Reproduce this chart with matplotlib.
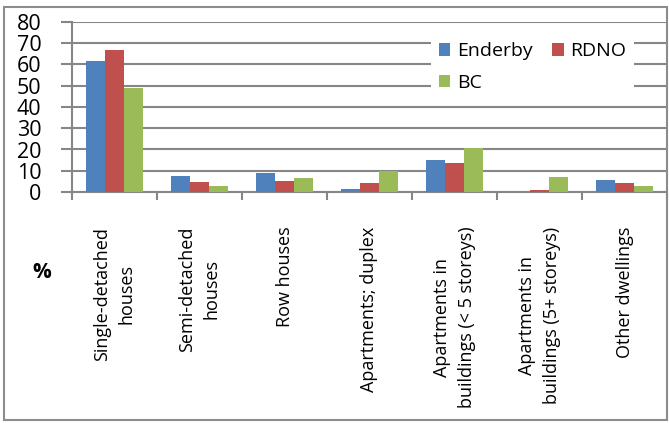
import numpy as np
import matplotlib
matplotlib.use('Agg')
from matplotlib import pyplot as plt
from matplotlib.patches import Rectangle

plt.rcParams['font.family'] = ['Open Sans', 'DejaVu Sans']

categories = ['Single-detached\nhouses', 'Semi-detached\nhouses', 'Row houses',
              'Apartments; duplex', 'Apartments in\nbuildings (< 5 storeys)',
              'Apartments in\nbuildings (5+ storeys)', 'Other dwellings']
enderby = [61.5, 7.4, 8.8, 1.5, 15.2, 0.0, 5.5]
rdno = [66.6, 4.5, 5.3, 4.0, 13.8, 0.9, 4.4]
bc = [49.1, 3.0, 6.7, 9.9, 20.8, 7.0, 2.8]
series_names = ['Enderby', 'RDNO', 'BC']
colors = ['#4F81BD', '#C0504D', '#9BBB59']

fig = plt.figure(figsize=(6.69, 4.23), dpi=100)
ax = fig.add_axes([72/669, 1 - 192/423, (667 - 72)/669, 170/423])

x = np.arange(len(categories))
w = 0.223
bars = []
for k, vals in enumerate([enderby, rdno, bc]):
    bars.append(ax.bar(x + (k - 1)*w, vals, w, color=colors[k], label=series_names[k], zorder=3))

ax.set_xlim(-0.5, len(categories) - 0.5)
ax.set_ylim(0, 80)
ax.set_yticks(np.arange(0, 81, 10))
ax.yaxis.grid(True, color='#868686', lw=1.5, zorder=0)
ax.tick_params(axis='y', length=8, width=1.5, color='#868686', pad=14, labelsize=15.5)

ax.set_xticks(x)
ax.set_xticklabels(categories, rotation=90, ha='center', va='top', multialignment='center',
                   fontsize=13, linespacing=1.45)
ax.set_xticks(np.arange(-0.5, len(categories)), minor=True)
ax.tick_params(axis='x', which='major', length=0, pad=25)
ax.tick_params(axis='x', which='minor', length=6, width=1.5, color='#868686')

for s in ['top', 'right']:
    ax.spines[s].set_visible(False)
for s in ['left', 'bottom']:
    ax.spines[s].set_color('#868686')
    ax.spines[s].set_linewidth(1.5)

# column-wise fill: Enderby, BC | RDNO
leg = ax.legend([bars[0], bars[2], bars[1]], ['Enderby', 'BC', 'RDNO'], ncol=2,
                loc='upper left', bbox_to_anchor=((421 - 72)/595, 1 - 3/170), frameon=True,
                fontsize=14, handlelength=0.6, handleheight=0.6, handletextpad=0.35,
                columnspacing=1.0, labelspacing=0.7, borderpad=0.4)
leg.get_frame().set_edgecolor('none')
leg.get_frame().set_facecolor('white')
leg.get_frame().set_alpha(1)

fig.text(42/669, 1 - 272/423, '%', fontsize=15, fontweight='bold', ha='center', va='center')

fig.patches.append(Rectangle((4/669, 3/423), 663/669, 413/423, transform=fig.transFigure,
                             fill=False, edgecolor='#8c8c8c', lw=1.5))

fig.savefig('out.png', dpi=100)
